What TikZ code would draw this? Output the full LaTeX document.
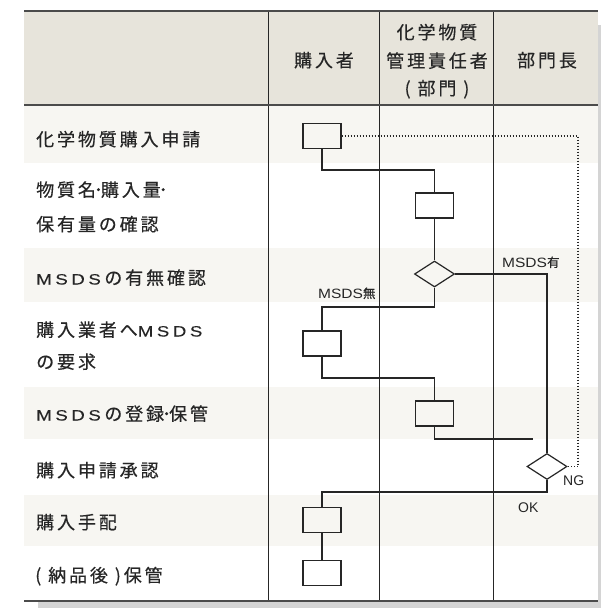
\documentclass[tikz,border=0pt]{standalone}
\usepackage{fontspec}
\usetikzlibrary{shapes.geometric}
\newfontfamily\jp[LetterSpace=16,FakeBold=0.4]{Noto Sans CJK JP}
\newfontfamily\jps[FakeBold=0.3]{Noto Sans CJK JP}
\newfontfamily\lats{Liberation Sans}
\newfontfamily\latw[FakeStretch=1.25,FakeBold=0.2]{Liberation Sans}
\newfontfamily\latn[FakeStretch=1.15]{Liberation Sans}
\newcommand{\MS}{{\latw\fontsize{15}{15}\selectfont M\kern3.5pt S\kern3.5pt D\kern3.5pt S\kern3.5pt}}
\newcommand{\MSs}{{\latn\fontsize{13.5}{13.5}\selectfont MSDS}}
\newcommand{\dt}{\kern-2pt･\kern-2pt}
\definecolor{hdr}{RGB}{231,228,219}
\definecolor{rowl}{RGB}{247,246,242}
\definecolor{shad}{RGB}{212,212,212}
\definecolor{ink}{RGB}{38,38,38}
\definecolor{rule}{RGB}{75,75,75}
\tikzset{
  lbl/.style={anchor=base west, inner sep=0pt, text=ink, font=\jp\fontsize{18}{18}\selectfont},
  hlbl/.style={anchor=base, inner sep=0pt, text=ink, font=\jp\fontsize{18}{18}\selectfont},
  small/.style={anchor=base west, inner sep=0pt, text=ink, font=\jps\fontsize{12.5}{12.5}\selectfont},
  okng/.style={anchor=base west, inner sep=0pt, text=ink, font=\lats\fontsize{14}{14}\selectfont},
  procbox/.style={draw=ink, line width=1.2pt, minimum width=38pt, minimum height=25pt, inner sep=0pt},
  decide/.style={diamond, draw=ink, line width=1.2pt, minimum width=40pt, minimum height=26pt, inner sep=0pt},
  conn/.style={draw=ink, line width=1.2pt},
  dotconn/.style={draw=ink, line width=1.2pt, dash pattern=on 1.3pt off 1.7pt},
  colline/.style={draw=ink, line width=1pt},
  hrule/.style={draw=rule, line width=2pt}
}
\begin{document}
\begin{tikzpicture}[x=1pt, y=-1pt]
\useasboundingbox (0,0) rectangle (601,608);
% shadow and table background
\fill[shad] (38,25) rectangle (601,608);
\fill[white] (24,11) rectangle (598,601);
\fill[hdr] (24,11) rectangle (598,105);
\fill[rowl] (24,105) rectangle (598,163);
\fill[rowl] (24,248) rectangle (598,302);
\fill[rowl] (24,387) rectangle (598,439);
\fill[rowl] (24,495) rectangle (598,546);
% column lines
\foreach \x in {268,379,493} \draw[colline] (\x,11) -- (\x,601);
% horizontal rules
\draw[hrule] (24,11) -- (598,11);
\draw[hrule] (24,105) -- (598,105);
\draw[hrule] (24,601) -- (598,601);
% header
\node[hlbl] (h1) at (324,67) {購入者};
\node[hlbl] (h2a) at (437,39) {化学物質};
\node[hlbl] (h2b) at (437,67.5) {管理責任者};
\node[hlbl] (h2c) at (437,95) {( 部門 )};
\node[hlbl] (h3) at (547,67) {部門長};
% row labels
\node[lbl] (r1) at (36,146) {化学物質購入申請};
\node[lbl] (r2a) at (36,196.5) {物質名\dt 購入量\dt};
\node[lbl] (r2b) at (36,231) {保有量の確認};
\node[lbl] (r3) at (36,284.5) {\MS の有無確認};
\node[lbl] (r4a) at (36,336.5) {購入業者へ\MS};
\node[lbl] (r4b) at (36,368.5) {の要求};
\node[lbl] (r5) at (36,420.5) {\MS の登録\dt 保管};
\node[lbl] (r6) at (36,477) {購入申請承認};
\node[lbl] (r7) at (36,529) {購入手配};
\node[lbl] (r8) at (35,582) {( 納品後 )保管};
% flow shapes
\node[procbox] (b1) at (322,136) {};
\node[procbox] (b2) at (434.5,205.5) {};
\node[decide] (d1) at (434.5,274) {};
\node[procbox] (b3) at (322,343.5) {};
\node[procbox] (b4) at (434.5,413.5) {};
\node[decide] (d2) at (547,466.5) {};
\node[procbox] (b5) at (322,520) {};
\node[procbox] (b6) at (322,573) {};
% bend points
\coordinate (j1) at (434.5,170);
\coordinate (j2) at (322,307);
\coordinate (j3) at (434.5,378);
\coordinate (e1) at (533,439);
\coordinate (j4) at (322,492);
\coordinate (j5) at (578,466.5);
% connectors
\draw[conn] (b1.south) |- (j1) -- (b2.north);
\draw[conn] (b2.south) -- (d1.north);
\draw[conn] (d1.south) |- (j2) -- (b3.north);
\draw[conn] (d1.east) -| (d2.north);
\draw[conn] (b3.south) |- (j3) -- (b4.north);
\draw[conn] (b4.south) |- (e1);
\draw[conn] (d2.south) |- (j4) -- (b5.north);
\draw[conn] (b5.south) -- (b6.north);
\draw[dotconn] (b1.east) -| (j5) -- (d2.east);
% small labels
\node[small] (l1) at (318,298) {\MSs 無};
\node[small] (l2) at (502,267) {\MSs 有};
\node[okng] (l3) at (563,485) {NG};
\node[okng] (l4) at (518,512) {OK};
\end{tikzpicture}
\end{document}
